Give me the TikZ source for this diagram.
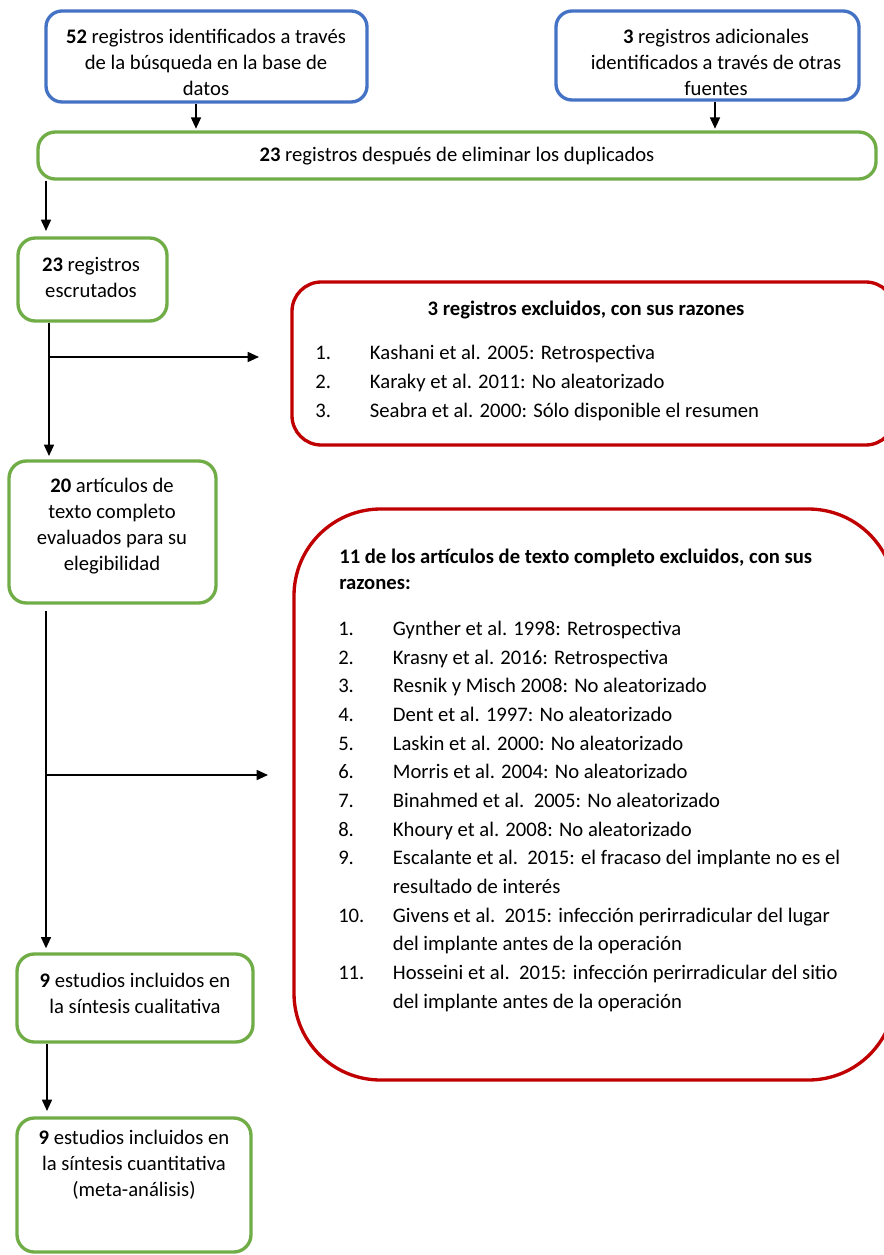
\documentclass[tikz,border=0pt]{standalone}
\usepackage{fontspec}
\setmainfont{Carlito}
\usetikzlibrary{fit,arrows.meta,calc}
\definecolor{bblue}{HTML}{4472C4}
\definecolor{bgreen}{HTML}{70AD47}
\definecolor{bred}{HTML}{C00000}
\begin{document}
\begin{tikzpicture}[x=0.75pt,y=-0.75pt,
  box/.style={inner sep=0pt, line width=2.5pt, fill=white},
  bluebox/.style={box, draw=bblue, rounded corners=12pt},
  greenbox/.style={box, draw=bgreen, rounded corners=13pt},
  redbox/.style={box, draw=bred},
  txt/.style={align=center, font=\fontsize{15.5}{19.5}\selectfont, inner sep=0pt},
  ttl/.style={align=left, font=\fontsize{15.5}{19.5}\selectfont\bfseries, inner sep=0pt, anchor=base west},
  listtxt/.style={align=left, font=\fontsize{15.5}{21.5}\selectfont, inner sep=0pt, anchor=base west},
  arr/.style={line width=1.2pt, -{Triangle[length=8.5pt,width=7.5pt]}},
  ln/.style={line width=1.2pt}]
\useasboundingbox (0,0) rectangle (883,1255);
\fill[white] (0,0) rectangle (883,1255);

% boxes
\node[bluebox, fit={(46,11) (367,102)}] (A) {};
\node[bluebox, fit={(556,11) (859,100)}] (B) {};
\node[greenbox, fit={(38,132) (876,179)}] (C) {};
\node[greenbox, fit={(18,238) (167,321)}] (D) {};
\node[redbox, rounded corners=22pt, fit={(292,282) (895,445)}] (F) {};
\node[greenbox, fit={(9,461) (216,603)}] (E) {};
\node[redbox, rounded corners=65pt, fit={(294,509) (895,1080)}] (H) {};
\node[greenbox, fit={(17,954) (253,1042)}] (G) {};
\node[greenbox, fit={(17,1118) (251,1252)}] (I) {};

% texts
\node[txt] (At) at (206,62) {\textbf{52} registros identificados a través\\de la búsqueda en la base de\\datos};
\node[txt] (Bt) at (716,62) {\textbf{3} registros adicionales\\identificados a través de otras\\fuentes};
\node[txt] (Ct) at (457,156) {\textbf{23} registros después de eliminar los duplicados};
\node[txt] (Dt) at (91,277) {\textbf{23} registros\\escrutados};
\node[txt] (Et) at (112,526) {\textbf{20} artículos de\\texto completo\\evaluados para su\\elegibilidad};
\node[txt] (Gt) at (135,993) {\textbf{9} estudios incluidos en\\la síntesis cualitativa};
\node[txt] (It) at (134,1165) {\textbf{9} estudios incluidos en\\la síntesis cuantitativa\\(meta-análisis)};

\node[txt, font=\fontsize{15.5}{19.5}\selectfont\bfseries] (Ft) at (586,310) {3 registros excluidos, con sus razones};
\node[listtxt] (Fl) at (315,417) {%
\makebox[41pt][l]{1.}Kashani et al. 2005: Retrospectiva\\
\makebox[41pt][l]{2.}Karaky et al. 2011: No aleatorizado\\
\makebox[41pt][l]{3.}Seabra et al. 2000: Sólo disponible el resumen};

\node[ttl] (Ht) at (339,589) {11 de los artículos de texto completo excluidos, con sus\\razones:};
\node[listtxt] (Hl) at (338,1008) {%
\makebox[41pt][l]{1.}Gynther et al. 1998: Retrospectiva\\
\makebox[41pt][l]{2.}Krasny et al. 2016: Retrospectiva\\
\makebox[41pt][l]{3.}Resnik y Misch 2008: No aleatorizado\\
\makebox[41pt][l]{4.}Dent et al. 1997: No aleatorizado\\
\makebox[41pt][l]{5.}Laskin et al. 2000: No aleatorizado\\
\makebox[41pt][l]{6.}Morris et al. 2004: No aleatorizado\\
\makebox[41pt][l]{7.}Binahmed et al.\ \ 2005: No aleatorizado\\
\makebox[41pt][l]{8.}Khoury et al. 2008: No aleatorizado\\
\makebox[41pt][l]{9.}Escalante et al.\ \ 2015: el fracaso del implante no es el\\
\hspace*{41pt}resultado de interés\\
\makebox[41pt][l]{10.}Givens et al.\ \ 2015: infección perirradicular del lugar\\
\hspace*{41pt}del implante antes de la operación\\
\makebox[41pt][l]{11.}Hosseini et al.\ \ 2015: infección perirradicular del sitio\\
\hspace*{41pt}del implante antes de la operación};

% connector x positions
\coordinate (ax) at (196,0);
\coordinate (bx) at (715,0);
\coordinate (cx) at (46,0);
\coordinate (dx) at (49,0);
\coordinate (ex) at (46,0);
\coordinate (gx) at (47,0);
\coordinate (br1) at (49,357);
\coordinate (f1) at (259,357);
\coordinate (br2) at (46,775);
\coordinate (h1) at (268,775);
\coordinate (e0) at (46,611);

\draw[arr, shorten >=1.2pt] (A.south -| ax) -- (C.north -| ax);
\draw[arr, shorten >=1.2pt] (B.south -| bx) -- (C.north -| bx);
\draw[arr, shorten >=4pt] (C.south -| cx) -- (D.north -| cx);
\draw[arr, shorten >=2.5pt] (D.south -| dx) -- (E.north -| dx);
\draw[arr] (br1) -- (f1);
\draw[arr, shorten >=3pt] (e0) -- (G.north -| ex);
\draw[arr] (br2) -- (h1);
\draw[arr, shorten >=4pt] (G.south -| gx) -- (I.north -| gx);
\end{tikzpicture}
\end{document}
